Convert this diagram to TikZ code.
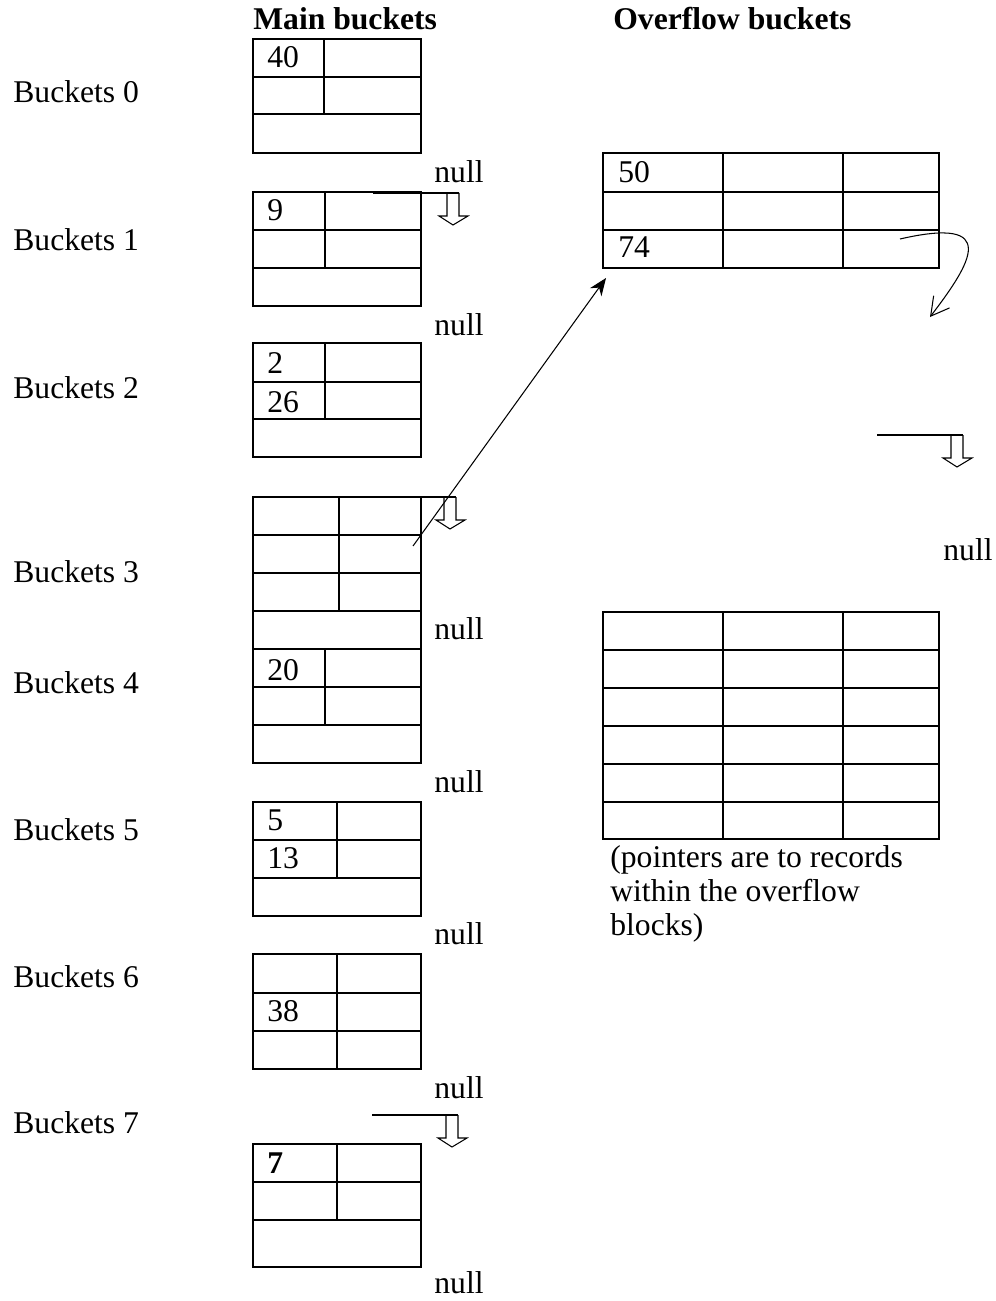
\documentclass[tikz,border=0pt]{standalone}
\usepackage{fontspec}
\setmainfont{Liberation Serif}
\usepackage{tikz}
\usetikzlibrary{positioning, calc, arrows.meta}

\begin{document}
\fontsize{18pt}{19.4pt}\selectfont
\begin{tikzpicture}[x=0.2mm, y=-0.2mm,
    box/.style={line width=1.2pt},
    lbl/.style={anchor=base west, inner sep=0pt},
    nul/.style={anchor=base, inner sep=0pt},
    ptr/.style={line width=0.6pt, -{Stealth[length=10pt, width=8pt]}},
    nullarrow/.pic={
        \draw[line width=0.6pt] (0,0) -- (86,0);
        \draw[line width=0.6pt] (74,0) -- (74,23) -- (66,23) -- (80,32) -- (95,23) -- (86,23) -- (86,0);
    }]
    \useasboundingbox (0,0) rectangle (995,1301);
    % headings
    \node[lbl, font=\bfseries] (hmain) at (253,30) {Main buckets};
    \node[lbl, font=\bfseries] (hover) at (613,30) {Overflow buckets};
    % bucket labels
    \node[lbl] (b0) at (13,103) {Buckets 0};
    \node[lbl] (b1) at (13,251) {Buckets 1};
    \node[lbl] (b2) at (13,398) {Buckets 2};
    \node[lbl] (b3) at (13,582) {Buckets 3};
    \node[lbl] (b4) at (13,693) {Buckets 4};
    \node[lbl] (b5) at (13,840) {Buckets 5};
    \node[lbl] (b6) at (13,987) {Buckets 6};
    \node[lbl] (b7) at (13,1133) {Buckets 7};
    % main buckets
    \draw[box] (253,39) rectangle (421,153);
    \draw[box] (253,77) -- (421,77) (253,114) -- (421,114) (324,39) -- (324,114);
    \draw[box] (253,192) rectangle (421,306);
    \draw[box] (253,230) -- (421,230) (253,268) -- (421,268) (325,192) -- (325,268);
    \draw[box] (253,343) rectangle (421,457);
    \draw[box] (253,382) -- (421,382) (253,419) -- (421,419) (325,343) -- (325,419);
    \draw[box] (253,497) rectangle (421,763);
    \foreach \y in {535,573,611,649,687,725}
        \draw[box] (253,\y) -- (421,\y);
    \draw[box] (339,497) -- (339,611) (325,649) -- (325,725);
    \draw[box] (253,802) rectangle (421,916);
    \draw[box] (253,840) -- (421,840) (253,878) -- (421,878) (337,802) -- (337,878);
    \draw[box] (253,954) rectangle (421,1069);
    \draw[box] (253,993) -- (421,993) (253,1031) -- (421,1031) (337,954) -- (337,1069);
    \draw[box] (253,1144) rectangle (421,1267);
    \draw[box] (253,1182) -- (421,1182) (253,1220) -- (421,1220) (337,1144) -- (337,1220);
    % keys in main buckets
    \node[lbl] (k40) at (267,68) {40};
    \node[lbl] (k9) at (267,221) {9};
    \node[lbl] (k2) at (267,373) {2};
    \node[lbl] (k26) at (267,412) {26};
    \node[lbl] (k20) at (267,680) {20};
    \node[lbl] (k5) at (267,830) {5};
    \node[lbl] (k13) at (267,868) {13};
    \node[lbl] (k38) at (267,1021) {38};
    \node[lbl, font=\bfseries] (k7) at (267,1173) {7};
    % overflow buckets
    \draw[box] (603,153) rectangle (939,268);
    \draw[box] (603,192) -- (939,192) (603,230) -- (939,230) (723,153) -- (723,268) (843,153) -- (843,268);
    \draw[box] (603,612) rectangle (939,839);
    \foreach \y in {650,688,726,764,802}
        \draw[box] (603,\y) -- (939,\y);
    \draw[box] (723,612) -- (723,839) (843,612) -- (843,839);
    \node[lbl] (k50) at (618,183) {50};
    \node[lbl] (k74) at (618,258) {74};
    \node[lbl] (note1) at (610,867) {(pointers are to records};
    \node[lbl] (note2) at (610,901) {within the overflow};
    \node[lbl] (note3) at (610,935) {blocks)};
    % null pointers
    \node[nul] (n0) at (459,183) {null};
    \node[nul] (n1) at (459,335) {null};
    \node[nul] (n3) at (459,639) {null};
    \node[nul] (n4) at (459,792) {null};
    \node[nul] (n5) at (459,944) {null};
    \node[nul] (n6) at (459,1098) {null};
    \node[nul] (n7) at (459,1293) {null};
    \node[nul] (n74) at (968,560) {null};
    \pic at (373,193) {nullarrow};
    \pic at (370,497) {nullarrow};
    \pic at (372,1115) {nullarrow};
    \pic at (877,435) {nullarrow};
    % pointers
    \coordinate (p3) at (413,546);
    \coordinate (o74) at (606,278);
    \draw[ptr] (p3) -- (o74);
    \coordinate (p74) at (900,239);
    \coordinate (nxt) at (930,317);
    \draw[line width=0.6pt, -{Straight Barb[length=3.6mm, width=4mm]}]
        (p74) .. controls (1000,216) and (972,262) .. (nxt);
\end{tikzpicture}
\end{document}
